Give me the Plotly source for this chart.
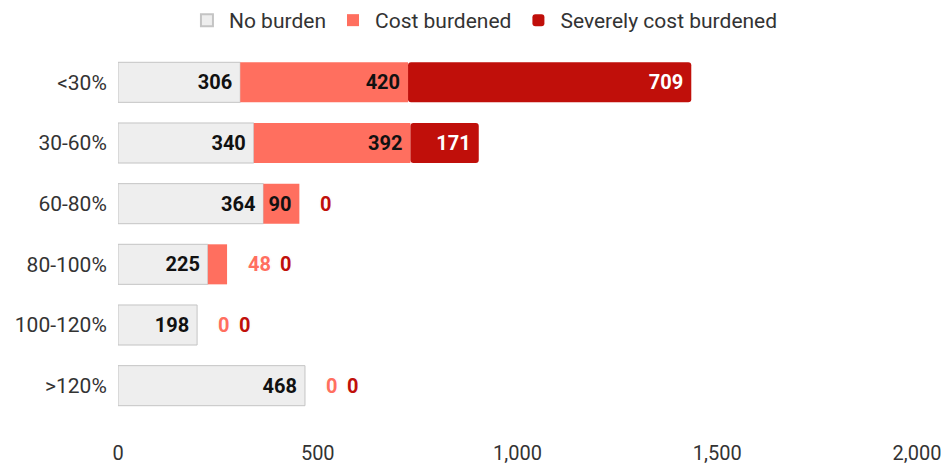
import plotly.graph_objects as go

categories = ["<30%", "30-60%", "60-80%", "80-100%", "100-120%", ">120%"]
no_burden = [306, 340, 364, 225, 198, 468]
cost_burdened = [420, 392, 90, 48, 0, 0]
severely_burdened = [709, 171, 0, 0, 0, 0]
series_names = ["No burden", "Cost burdened", "Severely cost burdened"]
x_tickvals = [0, 500, 1000, 1500, 2000]

colors = ["#eeeeee", "#ff6f5f", "#c00f0a"]
inside_text_colors = ["#111111", "#111111", "#ffffff"]

# layout geometry (style)
L, R, T, B = 118, 30, 52, 48
W, H = 947, 464
x_range = [0, 2000]
px_per_unit = (W - L - R) / (x_range[1] - x_range[0])
digit_w = 11.0
pad_needed = 10

font_fam = "Roboto, 'Open Sans', sans-serif"

fig = go.Figure()
series = [no_burden, cost_burdened, severely_burdened]
# stacking bases computed from the data
bases = [
    [0] * len(categories),
    list(no_burden),
    [a + b for a, b in zip(no_burden, cost_burdened)],
]
annotations = []
for i, (name, vals) in enumerate(zip(series_names, series)):
    texts = []
    for v in vals:
        s = f"{v:,}"
        if v * px_per_unit >= len(s) * digit_w + pad_needed:
            texts.append(s + "\u00a0")
        else:
            texts.append("")
    fig.add_trace(go.Bar(
        y=categories, x=vals, base=bases[i], name=name, orientation="h",
        marker=dict(color=colors[i],
                    cornerradius=3 if i == 2 else 0,
                    line=dict(color="#c4c4c4" if i == 0 else colors[i], width=1 if i == 0 else 0)),
        text=texts, texttemplate="%{text}", textposition="inside",
        insidetextanchor="end", textangle=0,
        textfont=dict(family=font_fam, size=20, color=inside_text_colors[i], weight="bold"),
        hoverinfo="x+name",
    ))

# outside labels for segments too narrow to hold their value
for r, cat in enumerate(categories):
    total = no_burden[r] + cost_burdened[r] + severely_burdened[r]
    offset = 19
    for i, vals in enumerate(series):
        v = vals[r]
        s = f"{v:,}"
        if v * px_per_unit >= len(s) * digit_w + pad_needed:
            continue
        annotations.append(dict(
            x=total, y=cat, xref="x", yref="y", text=s, showarrow=False,
            xanchor="left", xshift=offset,
            font=dict(family=font_fam, size=20, color=colors[i], weight="bold",
                      shadow="1px 1px 1px #fff, -1px -1px 1px #fff, 1px -1px 1px #fff, -1px 1px 1px #fff, 0 0 2px #ccc"),
        ))
        offset += len(s) * digit_w + 10

fig.update_layout(
    width=W, height=H,
    margin=dict(l=L, r=R, t=T, b=B),
    barmode="overlay", bargap=0.34,
    plot_bgcolor="white", paper_bgcolor="white",
    font=dict(family=font_fam, size=20, color="#333333"),
    legend=dict(orientation="h", x=0.458, xanchor="center", y=1.0, yref="container",
                yanchor="top", font=dict(size=21, color="#333333"),
                itemsizing="constant", traceorder="normal", itemwidth=34),
    annotations=annotations,
    showlegend=True,
)
fig.update_xaxes(range=x_range, tickvals=x_tickvals, tickformat=",",
                 showgrid=False, zeroline=False, showline=False, automargin=False,
                 ticks="outside", ticklen=19, tickcolor="rgba(0,0,0,0)",
                 tickfont=dict(size=20, color="#333333"))
fig.update_yaxes(autorange="reversed", showgrid=False, zeroline=False, showline=False,
                 automargin=False,
                 ticks="outside", ticklen=6, tickcolor="rgba(0,0,0,0)",
                 tickfont=dict(size=21, color="#333333"))

fig.write_html("out.html", config={"displayModeBar": False},
               post_script="document.body.style.margin='0';")
